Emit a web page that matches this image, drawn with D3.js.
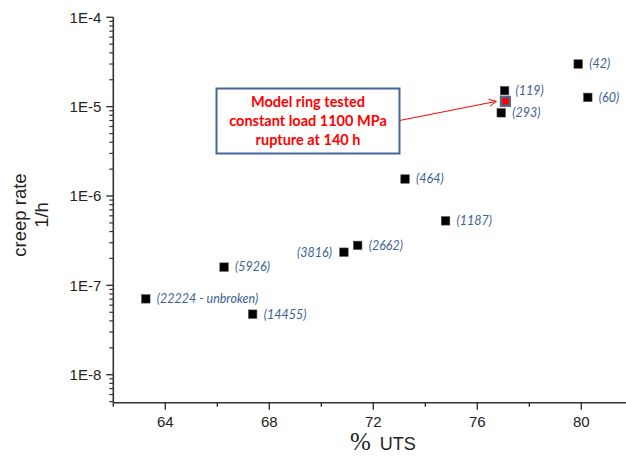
<!DOCTYPE html>
<html>
<head>
<meta charset="utf-8">
<script src="https://cdn.jsdelivr.net/npm/d3@7"></script>
<style>
  body { margin: 0; background: #fff; }
  svg { display: block; }
</style>
</head>
<body>
<svg id="chart"></svg>
<script>
// data: % UTS vs creep rate (1/h), label = hours to rupture
const uts = [79.88, 80.25, 77.05, 76.92, 73.22, 74.78, 71.40, 70.87, 66.26, 63.25, 67.36];
const creep = [3.0e-5, 1.27e-5, 1.51e-5, 8.53e-6, 1.55e-6, 5.27e-7, 2.8e-7, 2.35e-7, 1.6e-7, 7.06e-8, 4.76e-8];
const hours = ['(42)', '(60)', '(119)', '(293)', '(464)', '(1187)', '(2662)', '(3816)', '(5926)', '(22224 - unbroken)', '(14455)'];

// the model ring point
const modelUts = [77.08];
const modelCreep = [1.146e-5];
const noteLines = ['Model ring tested', 'constant load 1100 MPa', 'rupture at 140 h'];

const xTicks = [64, 68, 72, 76, 80];
const xMinor = [62, 66, 70, 74, 78, 82];
const yTicks = [1e-8, 1e-7, 1e-6, 1e-5, 1e-4];

const width = 626, height = 457;

const svg = d3.select('#chart')
  .attr('width', width)
  .attr('height', height);

const x = d3.scaleLinear()
  .domain([62, 82])
  .range([113.3, 633.3]);

const y = d3.scaleLog()
  .domain([4.86e-9, 1e-4])
  .range([402.7, 17.3]);

const axisColor = '#333';
const x0 = x.range()[0], y0 = y.range()[0];

// y axis
const yg = svg.append('g');
yg.append('line')
  .attr('x1', x0).attr('x2', x0)
  .attr('y1', y(1e-4)).attr('y2', y0)
  .attr('stroke', axisColor).attr('stroke-width', 1.6);

// minor log ticks
let yMinor = [];
for (let e = -9; e <= -5; e++) {
  for (let m = 2; m <= 9; m++) {
    const v = m * Math.pow(10, e);
    if (v >= y.domain()[0] && v < y.domain()[1]) yMinor.push(v);
  }
}
yg.selectAll('.ymin')
  .data(yMinor)
  .enter().append('line')
  .attr('x1', x0 - 4).attr('x2', x0)
  .attr('y1', d => y(d)).attr('y2', d => y(d))
  .attr('stroke', axisColor).attr('stroke-width', 1.2);

yg.selectAll('.ymaj')
  .data(yTicks)
  .enter().append('line')
  .attr('x1', x0 - 7).attr('x2', x0)
  .attr('y1', d => y(d)).attr('y2', d => y(d))
  .attr('stroke', axisColor).attr('stroke-width', 1.4);

yg.selectAll('.ylab')
  .data(yTicks)
  .enter().append('text')
  .attr('x', x0 - 12)
  .attr('y', d => y(d))
  .attr('dy', '0.36em')
  .attr('text-anchor', 'end')
  .style('font-family', '"Liberation Sans", Arial, sans-serif')
  .style('font-size', '15px')
  .attr('fill', '#222')
  .text(d => '1E' + Math.round(Math.log10(d)));

// x axis
const xg = svg.append('g');
xg.append('line')
  .attr('x1', x0).attr('x2', width)
  .attr('y1', y0).attr('y2', y0)
  .attr('stroke', axisColor).attr('stroke-width', 1.6);

xg.selectAll('.xmin')
  .data(xMinor)
  .enter().append('line')
  .attr('x1', d => x(d)).attr('x2', d => x(d))
  .attr('y1', y0).attr('y2', y0 + 4)
  .attr('stroke', axisColor).attr('stroke-width', 1.4);

xg.selectAll('.xmaj')
  .data(xTicks)
  .enter().append('line')
  .attr('x1', d => x(d)).attr('x2', d => x(d))
  .attr('y1', y0).attr('y2', y0 + 7)
  .attr('stroke', axisColor).attr('stroke-width', 1.4);

xg.selectAll('.xlab')
  .data(xTicks)
  .enter().append('text')
  .attr('x', d => x(d))
  .attr('y', y0 + 24)
  .attr('text-anchor', 'middle')
  .style('font-family', '"Liberation Sans", Arial, sans-serif')
  .style('font-size', '15px')
  .attr('fill', '#222')
  .text(d => d);

// axis titles
const xt = svg.append('text')
  .attr('x', 350)
  .attr('y', 450)
  .attr('fill', '#222');
xt.append('tspan')
  .style('font-family', '"Liberation Serif", "Times New Roman", serif')
  .style('font-size', '25px')
  .text('%');
xt.append('tspan')
  .attr('dx', 9)
  .style('font-family', '"Liberation Sans", Arial, sans-serif')
  .style('font-size', '18px')
  .text('UTS');

const yt = svg.append('text')
  .attr('transform', 'translate(26, 215) rotate(-90)')
  .attr('text-anchor', 'middle')
  .style('font-family', '"Liberation Sans", Arial, sans-serif')
  .style('font-size', '18.5px')
  .attr('fill', '#222');
yt.append('tspan').attr('x', 0).attr('y', 0).text('creep rate');
yt.append('tspan').attr('x', 0).attr('y', 22).text('1/h');

// points
const pts = uts.map((u, i) => ({x: u, y: creep[i], l: hours[i]}));
const sq = 8.5;

svg.selectAll('.pt')
  .data(pts)
  .enter().append('rect')
  .attr('x', d => x(d.x) - sq / 2)
  .attr('y', d => y(d.y) - sq / 2)
  .attr('width', sq).attr('height', sq)
  .attr('fill', '#000')
  .attr('stroke', '#555')
  .attr('stroke-width', 0.6);

// the (3816) label sits on the left of its point
svg.selectAll('.pl')
  .data(pts)
  .enter().append('text')
  .attr('x', d => d.l === '(3816)' ? x(d.x) - 12 : x(d.x) + 11)
  .attr('y', d => y(d.y))
  .attr('dy', '0.35em')
  .attr('text-anchor', d => d.l === '(3816)' ? 'end' : 'start')
  .style('font-family', 'Lato, "Open Sans", sans-serif')
  .style('font-style', 'italic')
  .style('font-size', '12.5px')
  .attr('fill', '#3d5f92')
  .text(d => d.l);

// model ring point
const mx = x(modelUts[0]), my = y(modelCreep[0]);
svg.append('rect')
  .attr('x', mx - 4.5).attr('y', my - 4.5)
  .attr('width', 9).attr('height', 9)
  .attr('fill', '#f00')
  .attr('stroke', '#4a6b9c')
  .attr('stroke-width', 2.2);

// note box + arrow
const box = {x: 216.5, y: 88.5, w: 183, h: 65};
svg.append('rect')
  .attr('x', box.x).attr('y', box.y)
  .attr('width', box.w).attr('height', box.h)
  .attr('fill', '#fff')
  .attr('stroke', '#41669a')
  .attr('stroke-width', 2);

svg.selectAll('.note')
  .data(noteLines)
  .enter().append('text')
  .attr('x', box.x + box.w / 2)
  .attr('y', (d, i) => box.y + 18 + i * 19)
  .attr('text-anchor', 'middle')
  .style('font-family', 'Lato, "Open Sans", sans-serif')
  .style('font-weight', 'bold')
  .style('font-size', '14.5px')
  .attr('fill', '#ff0000')
  .text(d => d);

const ax0 = box.x + box.w, ay0 = 120.5;
const ax1 = mx - 9, ay1 = my;
svg.append('line')
  .attr('x1', ax0).attr('y1', ay0)
  .attr('x2', ax1).attr('y2', ay1)
  .attr('stroke', '#f00').attr('stroke-width', 1);

const ang = Math.atan2(ay1 - ay0, ax1 - ax0);
const hl = 8, hw = 0.45;
svg.append('path')
  .attr('d', `M${ax1 - hl * Math.cos(ang - hw)},${ay1 - hl * Math.sin(ang - hw)}L${ax1},${ay1}L${ax1 - hl * Math.cos(ang + hw)},${ay1 - hl * Math.sin(ang + hw)}`)
  .attr('fill', 'none')
  .attr('stroke', '#f00').attr('stroke-width', 1);
</script>
</body>
</html>
